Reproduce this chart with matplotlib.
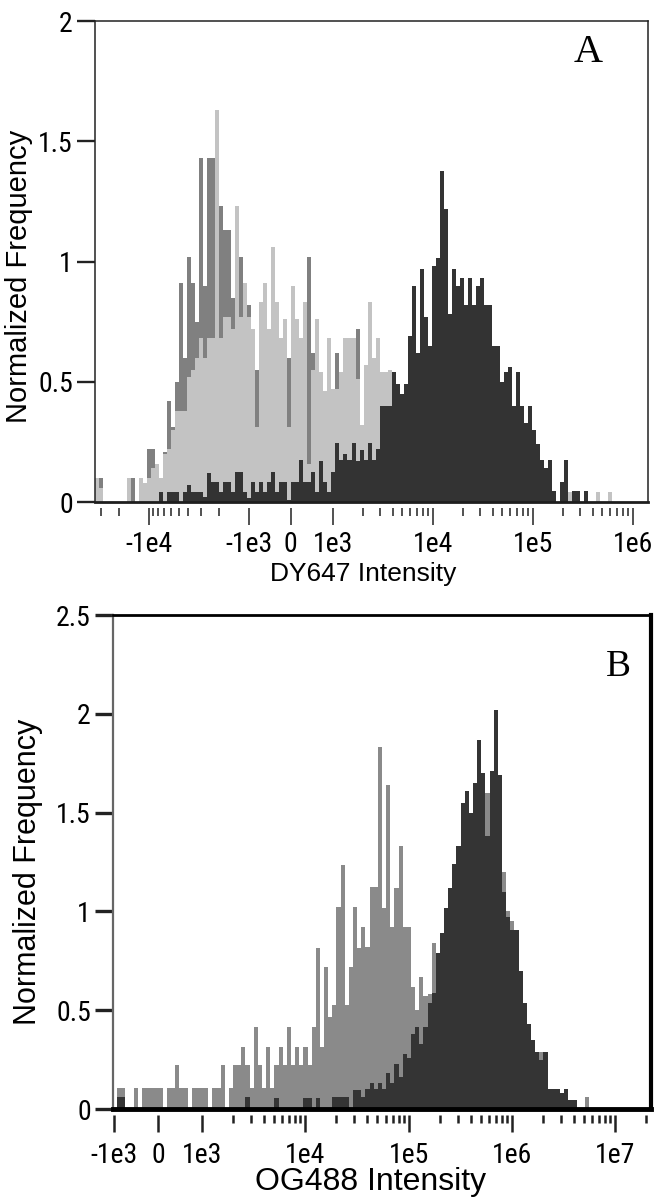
#!/usr/bin/env python3
"""
Two stacked intensity histograms (DY647 / OG488) on a symlog axis, normalized frequency.
"""

import numpy as np
import matplotlib
matplotlib.use("Agg")
import matplotlib.pyplot as plt
from matplotlib import font_manager
from matplotlib.font_manager import FontProperties
from matplotlib.ticker import FixedLocator

# ---- panel A : DY647, bins are even on the symlog axis between the range ends
DY647_RANGE = (-3.44e4, 1.43e6)
DY647_MID = ([0, 0.10, 0, 0, 0, 0, 0, 0, 0, 0.10,
              0, 0, 0, 0.22, 0.22, 0.10, 0.10, 0.21, 0.42, 0.31,
              0.50, 0.91, 0.60, 1.02, 0.91, 0.75, 1.43, 0.90, 1.43, 1.43,
              0.95, 1.23, 1.13, 1.13, 0.85, 1.02, 1.02, 0.80, 0.82, 0.60,
              0.55, 0.50, 0.72, 0.42, 0.55, 0.50, 0.45, 0.40, 0.60, 0.35,
              0.40, 0.30, 0.35, 1.02, 0.62, 0.52, 0.30, 0.35, 0.20, 0.30,
              0.62, 0.30, 0.25, 0.40, 0.30, 0.72, 0.30, 0.35, 0.50, 0.50,
              0.30, 0.20, 0.10] + [0] * 65)
DY647_LIGHT = ([0.10, 0.06, 0, 0, 0, 0, 0, 0, 0.10, 0,
                0, 0.10, 0.08, 0.10, 0.14, 0.16, 0.10, 0.20, 0.22, 0.30,
                0.38, 0.38, 0.38, 0.52, 0.55, 0.60, 0.68, 0.60, 0.68, 0.68,
                1.63, 0.68, 0.77, 0.77, 0.72, 1.23, 0.77, 0.91, 0.77, 0.72,
                0.31, 0.83, 0.91, 0.72, 1.06, 0.83, 0.68, 0.76, 0.31, 0.90,
                0.76, 0.68, 0.83, 0.16, 0.55, 0.76, 0.54, 0.46, 0.68, 0.47,
                0.47, 0.54, 0.68, 0.68, 0.68, 0.51, 0.32, 0.57, 0.83, 0.60,
                0.68, 0.54, 0.54, 0.55, 0.45, 0.30, 0.20, 0.10, 0, 0]
               + [0] * 38 + [0.04] + [0] * 6 + [0.04, 0, 0, 0.04] + [0] * 9)
DY647_DARK = ([0] * 16 + [0.04, 0, 0.04, 0.04,
              0.04, 0, 0.04, 0.07, 0.04, 0.04, 0.04, 0.02, 0.12, 0.085,
              0.085, 0.04, 0.085, 0.085, 0.04, 0.125, 0.125, 0.04, 0.015, 0.085,
              0.04, 0.085, 0.04, 0.085, 0.125, 0.04, 0.085, 0.085, 0.01, 0.085,
              0.085, 0.175, 0.085, 0.085, 0.125, 0.04, 0.17, 0.085, 0.04, 0.125,
              0.245, 0.175, 0.20, 0.175, 0.245, 0.17, 0.215, 0.175, 0.245, 0.175,
              0.22, 0.40, 0.40, 0.40, 0.54, 0.49, 0.45, 0.49, 0.69, 0.90,
              0.62, 0.97, 0.77, 0.65, 0.98, 1.015, 1.375, 1.22, 0.78, 0.97,
              0.90, 0.93, 0.82, 0.93, 0.82, 0.90, 0.93, 0.82, 0.82, 0.65,
              0.65, 0.50, 0.54, 0.56, 0.40, 0.54, 0.40, 0.33, 0.40, 0.30,
              0.24, 0.175, 0.14, 0.175, 0.045, 0, 0.085, 0.175, 0, 0.045,
              0.045, 0, 0.045] + [0] * 15)
DY647_TICKS = [-1e4, -1e3, 0, 1e3, 1e4, 1e5, 1e6]
DY647_TICK_LABELS = ["-1e4", "-1e3", "0", "1e3", "1e4", "1e5", "1e6"]
DY647_YTICKS = [0, 0.5, 1, 1.5, 2]
DY647_YTICK_LABELS = ["0", "0.5", "1", "1.5", "2"]

# ---- panel B : OG488
OG488_RANGE = (-1.02e3, 2.22e7)
OG488_MID = ([0, 0.108, 0.108, 0, 0, 0.108, 0, 0.108, 0.108, 0.108,
              0.108, 0.108, 0, 0.108, 0.108, 0.223, 0.108, 0.108, 0, 0.108,
              0.108, 0.108, 0.108, 0, 0.108, 0.108, 0.223, 0, 0.108, 0.223,
              0.223, 0.315, 0.223, 0.108, 0.417, 0.223, 0.108, 0.315, 0.108, 0.223,
              0.315, 0.223, 0.417, 0.223, 0.315, 0.223, 0.315, 0.223, 0.417, 0.813,
              0.315, 0.72, 0.467, 0.526, 1.024, 1.235, 0.526, 0.72, 1.024, 0.813,
              0.923, 0.82, 1.125, 1.125, 1.834, 1.02, 1.64, 0.923, 1.117, 1.33,
              0.923, 0.923, 0.62, 0.50, 0.67, 0.57, 0.58, 0.84, 0.62, 0.55,
              0.60, 0.60, 0.70, 0.80, 1.00, 1.10, 1.20, 1.40, 1.50, 1.50,
              1.60, 1.50, 1.70, 1.68, 1.20, 1.00, 0.95, 0.90, 0.60, 0.45,
              0.35, 0.30, 0.25, 0.29, 0.29, 0.10, 0.10, 0.08, 0.05, 0.05,
              0, 0, 0, 0, 0.06] + [0] * 15)
OG488_DARK = ([0, 0.06, 0.06] + [0] * 29 + [0.06, 0, 0, 0, 0, 0, 0, 0.054,
              0, 0, 0, 0, 0, 0, 0.054, 0.054, 0, 0.054,
              0, 0, 0, 0.06, 0.06, 0.06, 0.06, 0, 0.096, 0.096,
              0.06, 0.10, 0.13, 0.10, 0.13, 0.10, 0.18, 0.13, 0.23, 0.16,
              0.28, 0.256, 0.38, 0.417, 0.33, 0.417, 0.535, 0.585, 0.79, 0.89,
              1.02, 1.12, 1.24, 1.33, 1.55, 1.61, 1.50, 1.65, 1.87, 1.70,
              1.38, 1.71, 2.02, 1.69, 1.10, 0.97, 0.906, 0.906, 0.70, 0.535,
              0.43, 0.35, 0.29, 0.25, 0.29, 0.10, 0.10, 0.10, 0.08, 0.10,
              0.045, 0.045] + [0] * 18)
OG488_TICKS = [-1e3, 0, 1e3, 1e4, 1e5, 1e6, 1e7]
OG488_TICK_LABELS = ["-1e3", "0", "1e3", "1e4", "1e5", "1e6", "1e7"]
OG488_YTICKS = [0, 0.5, 1, 1.5, 2, 2.5]
OG488_YTICK_LABELS = ["0", "0.5", "1", "1.5", "2", "2.5"]


def pick_font(name, fallback):
    try:
        font_manager.findfont(name, fallback_to_default=False)
        return name
    except ValueError:
        return fallback


def narrow_font_file():
    # tick labels in the figure are set in a narrow sans
    entries = font_manager.fontManager.ttflist
    regular = (400, "normal", "regular", "book")
    for name in ("Liberation Sans Narrow", "Arial Narrow", "DejaVu Sans Condensed",
                 "Roboto Condensed", "Open Sans Condensed", "Noto Sans Condensed"):
        for f in entries:
            if f.name == name and f.style == "normal" and f.weight in regular:
                return f.fname
    for f in entries:
        if (f.stretch in ("condensed", "semi-condensed") and f.style == "normal"
                and f.weight in regular and "Mono" not in f.name
                and "Serif" not in f.name):
            return f.fname
    return None


SANS = pick_font("Liberation Sans", "DejaVu Sans")
SERIF = pick_font("Liberation Serif", "DejaVu Serif")
NARROW_FILE = narrow_font_file()


def tick_font():
    if NARROW_FILE:
        return FontProperties(fname=NARROW_FILE, size=20)
    return FontProperties(family=SANS, size=17)


def bin_edges(ax, lo, hi, n):
    # even bins in the displayed (symlog) coordinate
    tr = ax.xaxis.get_transform()
    t = np.linspace(*tr.transform(np.array([lo, hi])), n + 1)
    return tr.inverted().transform(t)


def minor_positions(lo, hi):
    out = []
    for e in range(3, 8):
        for m in range(2, 10):
            for s in (-1, 1):
                v = s * m * 10.0 ** e
                if lo < v < hi:
                    out.append(v)
    return sorted(out)


def setup_axis(ax, rng, linscale, ticks, labels, yticks, ylabels, ymax,
               tick_w, tick_pad):
    ax.set_xscale("symlog", linthresh=1e3, linscale=linscale)
    ax.set_xlim(*rng)
    ax.set_ylim(0, ymax)
    ax.xaxis.set_major_locator(FixedLocator(ticks))
    ax.set_xticklabels(labels)
    ax.xaxis.set_minor_locator(FixedLocator(minor_positions(*rng)))
    ax.set_yticks(yticks)
    ax.set_yticklabels(ylabels)
    ax.spines["bottom"].set_position(("outward", 4))
    ax.spines["bottom"].set_visible(False)
    ax.tick_params(axis="x", which="major", direction="out", length=12,
                   width=tick_w, color="#222222", pad=tick_pad)
    ax.tick_params(axis="x", which="minor", direction="out", length=6,
                   width=tick_w, color="#222222")
    ax.tick_params(axis="y", direction="out", length=13, width=tick_w + 0.6,
                   color="#222222", pad=3)
    for lab in ax.get_xticklabels() + ax.get_yticklabels():
        lab.set_fontproperties(tick_font())


def main():
    fig = plt.figure(figsize=(6.54, 12.03), dpi=100)

    # ---------------- panel A
    ax1 = fig.add_axes([0.1453, 0.5827, 0.8456, 0.3998])
    setup_axis(ax1, DY647_RANGE, 0.378, DY647_TICKS, DY647_TICK_LABELS,
               DY647_YTICKS, DY647_YTICK_LABELS, 2, 1.1, 5)
    edges = bin_edges(ax1, *DY647_RANGE, len(DY647_DARK))
    ax1.stairs(DY647_MID, edges, fill=True, color="#808080", lw=0)
    ax1.stairs(DY647_LIGHT, edges, fill=True, color="#c3c3c3", lw=0)
    ax1.stairs(DY647_DARK, edges, fill=True, color="#333333", lw=0)
    ax1.axhline(0, color="#1e1e1e", lw=2, clip_on=False, zorder=5)
    for s in ("left", "top", "right"):
        ax1.spines[s].set_linewidth(1.1)
        ax1.spines[s].set_color("#222222")
    ax1.set_xlabel("DY647 Intensity", fontsize=19, family=SANS)
    ax1.xaxis.set_label_coords(0.485, -0.125)
    ax1.xaxis.label.set_va("top")
    ax1.set_ylabel("Normalized Frequency", fontsize=21, family=SANS)
    ax1.yaxis.set_label_coords(-0.112, 0.47)
    ax1.text(0.891, 0.935, "A", transform=ax1.transAxes, ha="center",
             va="center", fontsize=29, family=SERIF)

    # ---------------- panel B
    ax2 = fig.add_axes([0.1728, 0.0781, 0.8226, 0.4106])
    setup_axis(ax2, OG488_RANGE, 0.383, OG488_TICKS, OG488_TICK_LABELS,
               OG488_YTICKS, OG488_YTICK_LABELS, 2.5, 1.8, 8)
    edges = bin_edges(ax2, *OG488_RANGE, len(OG488_DARK))
    ax2.stairs(OG488_MID, edges, fill=True, color="#8a8a8a", lw=0)
    ax2.stairs(OG488_DARK, edges, fill=True, color="#343434", lw=0)
    ax2.axhline(0, color="#000000", lw=3.5, clip_on=False, zorder=5)
    ax2.spines["left"].set_linewidth(1.6)
    ax2.spines["left"].set_color("#666666")
    ax2.spines["top"].set_linewidth(2)
    ax2.spines["right"].set_linewidth(3)
    ax2.set_xlabel("OG488 Intensity", fontsize=23, family=SANS)
    ax2.xaxis.set_label_coords(0.478, -0.117)
    ax2.xaxis.label.set_va("top")
    ax2.set_ylabel("Normalized Frequency", fontsize=22, family=SANS)
    ax2.yaxis.set_label_coords(-0.13, 0.48)
    ax2.text(0.94, 0.895, "B", transform=ax2.transAxes, ha="center",
             va="center", fontsize=27, family=SERIF)

    fig.savefig("out.png", dpi=100)


if __name__ == "__main__":
    main()
